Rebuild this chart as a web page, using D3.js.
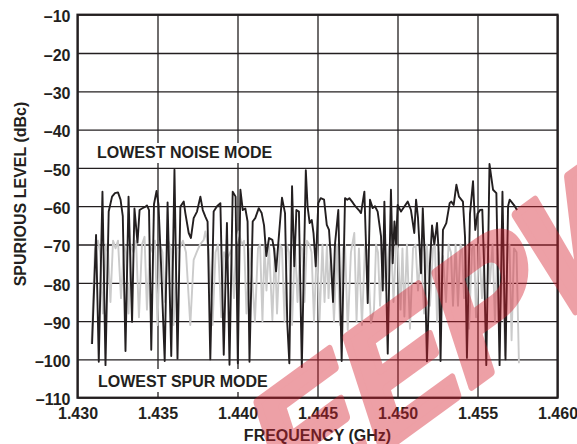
<!DOCTYPE html>
<html>
<head>
<meta charset="utf-8">
<script src="https://cdn.jsdelivr.net/npm/d3@7/dist/d3.min.js"></script>
<style>
  html, body { margin: 0; padding: 0; background: #fff; }
  svg { display: block; }
  text { font-family: "Liberation Sans", Arial, Helvetica, sans-serif; font-weight: bold; }
</style>
</head>
<body>
<svg id="chart" width="577" height="444"></svg>
<script>
// Axis ticks
const freqTicks = [1.430, 1.435, 1.440, 1.445, 1.450, 1.455, 1.460];
const levelTicks = [-10, -20, -30, -40, -50, -60, -70, -80, -90, -100, -110];

// Lowest noise mode: frequency (GHz) and spurious level (dBc)
const noiseFreq = [
  1.43091, 1.43116, 1.43133, 1.43156, 1.43175, 1.43195, 1.43216, 1.43234, 1.43253, 1.43269,
  1.43283, 1.43300, 1.43319, 1.43341, 1.43356, 1.43375, 1.43388, 1.43403, 1.43422, 1.43434,
  1.43447, 1.43461, 1.43478, 1.43494, 1.43506, 1.43522, 1.43545, 1.43563, 1.43586, 1.43606,
  1.43625, 1.43643, 1.43664, 1.43674, 1.43695, 1.43709, 1.43726, 1.43747, 1.43768, 1.43783,
  1.43799, 1.43813, 1.43830, 1.43851, 1.43872, 1.43893, 1.43914, 1.43934, 1.43950, 1.43970,
  1.43988, 1.44002, 1.44018, 1.44033, 1.44049, 1.44063, 1.44075, 1.44095, 1.44111, 1.44133,
  1.44151, 1.44166, 1.44180, 1.44197, 1.44218, 1.44228, 1.44241, 1.44255, 1.44278, 1.44297,
  1.44311, 1.44324, 1.44341, 1.44355, 1.44368, 1.44384, 1.44402, 1.44427, 1.44438, 1.44451,
  1.44464, 1.44475, 1.44489, 1.44505, 1.44520, 1.44541, 1.44558, 1.44572, 1.44584, 1.44597,
  1.44609, 1.44630, 1.44651, 1.44672, 1.44686, 1.44699, 1.44716, 1.44736, 1.44758, 1.44772,
  1.44793, 1.44814, 1.44828, 1.44845, 1.44859, 1.44876, 1.44897, 1.44908, 1.44918, 1.44939,
  1.44959, 1.44970, 1.44981, 1.44991, 1.45001, 1.45022, 1.45043, 1.45064, 1.45084, 1.45105,
  1.45116, 1.45128, 1.45147, 1.45158, 1.45169, 1.45184, 1.45203, 1.45216, 1.45230, 1.45247,
  1.45256, 1.45269, 1.45284, 1.45305, 1.45326, 1.45336, 1.45351, 1.45368, 1.45384, 1.45409,
  1.45422, 1.45434, 1.45453, 1.45472, 1.45486, 1.45500, 1.45516, 1.45530, 1.45541, 1.45555,
  1.45575, 1.45597, 1.45618, 1.45638, 1.45656, 1.45675, 1.45691, 1.45701, 1.45733, 1.45747
];
const noiseLevel = [
  -96.0, -67.5, -100.6, -56.2, -101.5, -61.4, -57.5, -56.6, -56.4, -58.3,
  -62.6, -97.8, -57.5, -90.2, -60.6, -69.5, -61.0, -60.6, -60.2, -59.8,
  -61.0, -97.5, -59.5, -56.0, -59.5, -75.0, -100.4, -59.0, -99.1, -50.5,
  -99.8, -60.1, -58.8, -61.8, -67.0, -68.3, -63.1, -61.4, -57.5, -61.0,
  -62.7, -64.0, -100.0, -61.4, -60.0, -59.2, -98.8, -64.4, -101.4, -56.2,
  -57.5, -101.0, -55.7, -61.0, -60.6, -64.0, -100.6, -64.0, -63.1, -60.5,
  -61.8, -65.0, -73.0, -68.3, -68.8, -71.0, -77.0, -69.7, -57.8, -61.8,
  -90.5, -101.0, -54.8, -75.7, -61.0, -61.4, -102.0, -50.6, -60.1, -64.4,
  -63.6, -67.0, -75.7, -59.2, -57.9, -58.3, -64.9, -66.2, -74.0, -85.0,
  -70.0, -61.0, -100.4, -57.9, -58.3, -57.9, -58.8, -60.0, -61.0, -61.8,
  -56.2, -85.3, -58.3, -60.5, -60.0, -61.4, -67.9, -82.0, -58.8, -98.5,
  -55.7, -74.9, -64.0, -70.0, -59.7, -61.4, -60.1, -58.8, -61.0, -67.0,
  -58.3, -63.0, -77.5, -60.5, -72.0, -100.5, -74.9, -65.0, -70.0, -64.4,
  -70.9, -100.4, -66.2, -64.4, -59.2, -58.8, -59.7, -54.4, -57.5, -58.8,
  -68.0, -99.6, -62.0, -53.5, -66.2, -62.0, -61.0, -60.9, -75.0, -101.5,
  -49.0, -55.7, -56.6, -101.5, -56.2, -100.0, -60.0, -58.3, -60.0, -61.0
];

// Lowest spur mode: frequency (GHz) and spurious level (dBc)
const spurFreq = [
  1.43088, 1.43109, 1.43128, 1.43141, 1.43159, 1.43178, 1.43191, 1.43206, 1.43222, 1.43238,
  1.43253, 1.43272, 1.43291, 1.43303, 1.43319, 1.43334, 1.43350, 1.43366, 1.43384, 1.43403,
  1.43419, 1.43434, 1.43453, 1.43469, 1.43484, 1.43500, 1.43516, 1.43531, 1.43547, 1.43566,
  1.43584, 1.43600, 1.43622, 1.43643, 1.43659, 1.43678, 1.43705, 1.43726, 1.43747, 1.43766,
  1.43789, 1.43799, 1.43820, 1.43844, 1.43863, 1.43878, 1.43899, 1.43916, 1.43934, 1.43961,
  1.43978, 1.43991, 1.44008, 1.44025, 1.44041, 1.44056, 1.44080, 1.44109, 1.44128, 1.44141,
  1.44156, 1.44169, 1.44181, 1.44197, 1.44218, 1.44234, 1.44247, 1.44266, 1.44278, 1.44294,
  1.44309, 1.44322, 1.44341, 1.44359, 1.44375, 1.44391, 1.44403, 1.44419, 1.44434, 1.44450,
  1.44463, 1.44478, 1.44497, 1.44513, 1.44531, 1.44544, 1.44559, 1.44569, 1.44584, 1.44603,
  1.44622, 1.44641, 1.44659, 1.44672, 1.44689, 1.44709, 1.44730, 1.44744, 1.44759, 1.44778,
  1.44797, 1.44813, 1.44834, 1.44853, 1.44866, 1.44878, 1.44891, 1.44909, 1.44928, 1.44947,
  1.44963, 1.44975, 1.44991, 1.45003, 1.45019, 1.45031, 1.45043, 1.45059, 1.45078, 1.45097,
  1.45113, 1.45128, 1.45147, 1.45166, 1.45184, 1.45203, 1.45222, 1.45234, 1.45247, 1.45259,
  1.45272, 1.45284, 1.45303, 1.45319, 1.45334, 1.45347, 1.45363, 1.45378, 1.45394, 1.45403,
  1.45416, 1.45431, 1.45447, 1.45466, 1.45478, 1.45491, 1.45509, 1.45528, 1.45547, 1.45563,
  1.45578, 1.45594, 1.45609, 1.45625, 1.45641, 1.45656, 1.45672, 1.45688, 1.45700, 1.45713,
  1.45728, 1.45744, 1.45759
];
const spurLevel = [
  -96.0, -71.0, -69.0, -72.0, -88.0, -70.0, -72.0, -85.0, -69.0, -71.0,
  -69.0, -84.0, -70.0, -72.0, -88.0, -70.0, -72.0, -69.0, -89.0, -70.0,
  -68.0, -87.0, -70.0, -72.0, -69.0, -91.0, -70.0, -72.0, -85.0, -69.0,
  -71.0, -91.0, -71.0, -70.5, -69.0, -72.0, -91.0, -74.0, -71.8, -70.0,
  -68.8, -66.6, -71.4, -91.0, -72.0, -70.0, -89.0, -72.0, -74.0, -71.4,
  -84.0, -70.0, -66.6, -70.0, -69.0, -88.0, -71.0, -90.0, -71.0, -70.0,
  -90.0, -70.0, -82.0, -70.0, -89.7, -71.0, -88.0, -70.0, -71.0, -90.0,
  -70.0, -72.0, -91.0, -70.0, -85.0, -70.0, -71.0, -85.0, -69.0, -70.0,
  -72.0, -90.0, -70.0, -89.7, -70.0, -85.0, -70.0, -84.0, -71.0, -90.0,
  -70.0, -91.0, -71.0, -70.0, -92.3, -72.0, -67.0, -90.0, -71.0, -91.0,
  -70.0, -72.0, -90.5, -87.0, -70.0, -72.0, -86.0, -71.0, -82.0, -70.0,
  -72.0, -85.0, -70.0, -71.0, -87.0, -71.0, -88.8, -70.0, -92.0, -71.0,
  -70.0, -82.0, -71.0, -88.0, -70.0, -86.0, -71.0, -70.0, -90.0, -72.0,
  -91.0, -73.0, -85.0, -70.0, -72.0, -86.0, -70.0, -86.0, -70.0, -71.0,
  -84.0, -70.0, -92.0, -71.0, -70.0, -89.0, -70.0, -84.0, -71.0, -70.0,
  -80.0, -70.0, -90.0, -71.0, -86.0, -71.0, -99.0, -71.0, -70.0, -95.0,
  -71.0, -72.0, -101.0
];

const ink = "#231f20";
const fontSize = 16;
const svg = d3.select("#chart");
const plot = { left: 77.5, right: 557.5, top: 14.7, bottom: 397.7 };

const x = d3.scaleLinear().domain([1.430, 1.460]).range([plot.left, plot.right]);
const y = d3.scaleLinear().domain([-110, -10]).range([plot.bottom, plot.top]);

// Grid lines drawn through the axis generators
const gridX = svg.append("g")
  .attr("transform", `translate(0,${plot.bottom})`)
  .call(d3.axisBottom(x).tickValues(freqTicks).tickSize(-(plot.bottom - plot.top)).tickFormat(""));
const gridY = svg.append("g")
  .attr("transform", `translate(${plot.left},0)`)
  .call(d3.axisLeft(y).tickValues(levelTicks).tickSize(-(plot.right - plot.left)).tickFormat(""));
[gridX, gridY].forEach(g => {
  g.select(".domain").remove();
  g.selectAll(".tick text").remove();
  g.selectAll(".tick line").attr("stroke", ink).attr("stroke-width", 1.3);
});

// Mode annotations sit on white boxes that interrupt the grid
const labelLayer = svg.append("g");
function modeLabel(text, tx, ty, boxTop, boxBottom) {
  const box = labelLayer.append("rect").style("fill", "#fff");
  const t = labelLayer.append("text")
    .attr("x", tx).attr("y", ty)
    .attr("font-size", fontSize)
    .style("fill", ink)
    .text(text);
  const bb = t.node().getBBox();
  box.attr("x", bb.x - 4).attr("y", boxTop)
    .attr("width", bb.width + 8).attr("height", boxBottom - boxTop);
  return t;
}
modeLabel("LOWEST NOISE MODE", 97, 158, 143, 163);
modeLabel("LOWEST SPUR MODE", 98, 386.5, 369, 392);

// Data traces
const line = d3.line()
  .x(d => x(d[0]))
  .y(d => y(d[1]));

const spurPts = d3.zip(spurFreq, spurLevel);
const noisePts = d3.zip(noiseFreq, noiseLevel);

svg.append("path")
  .datum(spurPts)
  .attr("d", line)
  .attr("fill", "none")
  .attr("stroke", "#cbcbcb")
  .attr("stroke-width", 1.9)
  .attr("stroke-linejoin", "round");

svg.append("path")
  .datum(noisePts)
  .attr("d", line)
  .attr("fill", "none")
  .attr("stroke", ink)
  .attr("stroke-width", 1.9)
  .attr("stroke-linejoin", "round");

// Frame
svg.append("rect")
  .attr("x", plot.left).attr("y", plot.top)
  .attr("width", plot.right - plot.left).attr("height", plot.bottom - plot.top)
  .attr("fill", "none").attr("stroke", ink).attr("stroke-width", 2.2);

// Tick labels
const axL = svg.append("g")
  .attr("transform", `translate(${plot.left},0)`)
  .call(d3.axisLeft(y).tickValues(levelTicks).tickSize(0).tickPadding(7)
    .tickFormat(d => "\u2013" + Math.abs(d)));
const axB = svg.append("g")
  .attr("transform", `translate(0,${plot.bottom})`)
  .call(d3.axisBottom(x).tickValues(freqTicks).tickSize(0).tickPadding(10)
    .tickFormat(d3.format(".3f")));
[axL, axB].forEach(g => {
  g.select(".domain").remove();
  g.selectAll("text")
    .attr("font-family", "Liberation Sans, Arial, sans-serif")
    .attr("font-weight", "bold")
    .attr("font-size", fontSize)
    .style("fill", ink);
});
axL.selectAll("text").attr("dy", "0.45em");

// Axis titles
svg.append("text")
  .attr("x", (plot.left + plot.right) / 2).attr("y", 441)
  .attr("text-anchor", "middle")
  .attr("font-size", fontSize)
  .style("fill", ink)
  .text("FREQUENCY (GHz)");
svg.append("text")
  .attr("transform", `translate(26,194) rotate(-90)`)
  .attr("text-anchor", "middle")
  .attr("font-size", fontSize)
  .style("fill", ink)
  .text("SPURIOUS LEVEL (dBc)");

// Publisher mark, translucent over the plot (heavy slanted letters)
svg.append("g")
  .style("opacity", 0.42)
  .style("pointer-events", "none")
  .append("text")
  .attr("transform", "translate(285,522) rotate(-36) skewX(-18)")
  .attr("font-family", "DejaVu Sans, sans-serif")
  .attr("font-weight", "bold")
  .attr("font-size", 165)
  .style("fill", "rgb(214,30,45)")
  .style("stroke", "rgb(214,30,45)")
  .style("stroke-width", 8)
  .style("stroke-linejoin", "round")
  .text("EEPW");
</script>
</body>
</html>
